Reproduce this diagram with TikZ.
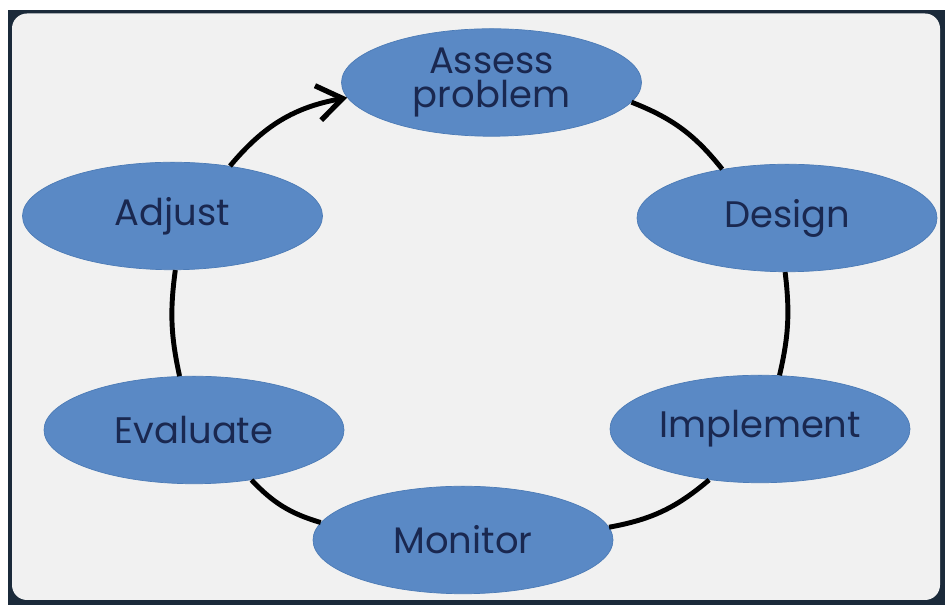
\documentclass[tikz,border=0pt]{standalone}
\usepackage{fontspec}
\setmainfont{Poppins}
\usepackage{tikz}
\usetikzlibrary{positioning,shapes,arrows.meta}

\definecolor{framecol}{HTML}{1B2A3A}
\definecolor{panelcol}{HTML}{F1F1F1}
\definecolor{stagefill}{HTML}{5A89C5}
\definecolor{stageedge}{HTML}{4C7BB6}
\definecolor{stagetext}{HTML}{1A2850}

\begin{document}
\begin{tikzpicture}[
	stage/.style={draw=stageedge, fill=stagefill, ellipse, inner sep=0pt,
		minimum width=6cm, minimum height=2.15cm, text=stagetext, align=center,
		font=\fontsize{21}{21}\selectfont},
	loop/.style={line width=2.8pt, black}
	]
					\useasboundingbox (0,0) rectangle (18.9,12.1);
					\clip (0,0) rectangle (18.9,12.1);
					\fill[white] (0,0) rectangle (18.9,12.1);
					\fill[framecol] (0.16,-0.3) rectangle (19.2,11.9);
					\fill[panelcol, rounded corners=0.3cm] (0.24,0.1) rectangle (18.8,11.83);
					
					\node[stage] (assess) at (9.83,10.45) {Assess\\[-2pt]problem};
					\node[stage] (design) at (15.74,7.74) {Design};
					\node[stage] (implement) at (15.20,3.52) {Implement};
					\node[stage] (monitor) at (9.26,1.30) {Monitor};
					\node[stage] (evaluate) at (3.88,3.50) {Evaluate};
					\node[stage] (adjust) at (3.45,7.78) {Adjust};
					
					\draw[loop] (assess.-8) to[bend left=15] (design.143);
					\draw[loop] (design.-92) to[bend left=10] (implement.70);
					\draw[loop] (implement.225) to[bend left=15] (monitor.5);
					\draw[loop] (monitor.173) to[bend left=15] (evaluate.-41);
					\draw[loop] (evaluate.105) to[bend left=10] (adjust.-87);
					\draw[loop, -{Straight Barb[length=5mm, width=7mm, line width=3pt]}] (adjust.41) to[bend left=20] (assess.186);
				
	\end{tikzpicture}
\end{document}
